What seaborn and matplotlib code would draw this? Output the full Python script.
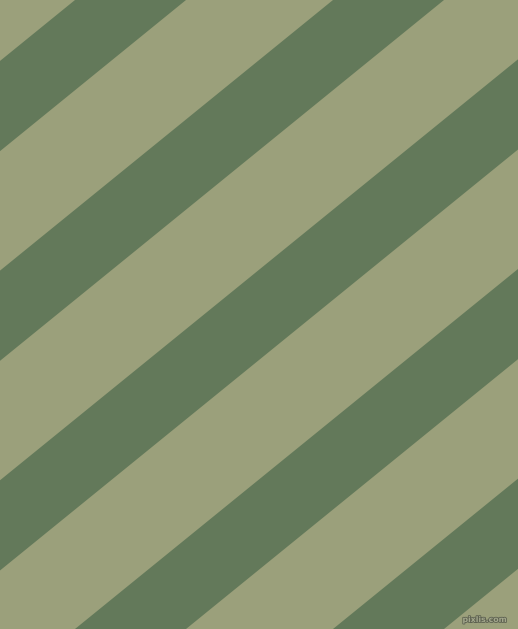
import matplotlib
matplotlib.use("Agg")
import matplotlib.pyplot as plt
import matplotlib.patheffects as pe
import seaborn as sns

# Stripe data (image-pixel coordinates, y measured downward)
stripe_top_starts = [75, 333, 591, 849, 1107]   # x where each dark stripe's upper edge meets the top border
stripe_width = 111                               # horizontal width of a dark stripe
stripe_shift = 774                               # horizontal drift of an edge from top (y=0) to bottom (y=629)
light_color = "#9ba07b"
dark_color = "#63795a"
watermark = "pixlis.com"

W, H = 518, 629

sns.set_theme(style="white")
fig = plt.figure(figsize=(W / 100, H / 100), dpi=100)
ax = fig.add_axes([0, 0, 1, 1])
ax.set_facecolor(light_color)
fig.patch.set_facecolor(light_color)

for s in stripe_top_starts:
    e = s + stripe_width
    xs = [s, e, e - stripe_shift, s - stripe_shift]
    ys = [0, 0, H, H]
    ax.fill(xs, ys, color=dark_color, linewidth=0)

ax.set_xlim(0, W)
ax.set_ylim(H, 0)
ax.set_axis_off()
sns.despine(ax=ax, left=True, bottom=True)

t = ax.text(507, 622, watermark, ha="right", va="baseline", fontsize=5.6,
            color="#a3a78c", fontweight="bold", family="DejaVu Sans")
t.set_path_effects([pe.withStroke(linewidth=1.2, foreground="#5d6150")])

fig.savefig("out.png", dpi=100, facecolor=light_color)
